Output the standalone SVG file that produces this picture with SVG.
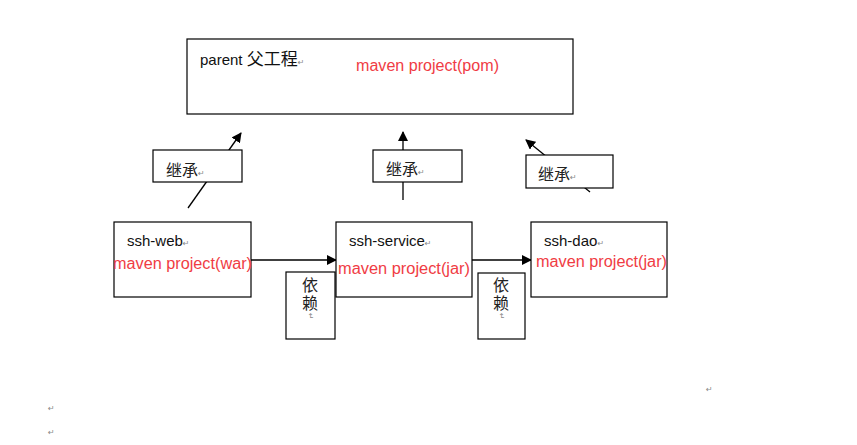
<svg xmlns="http://www.w3.org/2000/svg" width="857" height="445" viewBox="0 0 857 445">
<defs>
<marker id="ah" viewBox="0 0 10 10" refX="9" refY="5" markerWidth="10" markerHeight="10" markerUnits="userSpaceOnUse" orient="auto">
<path d="M0,0 L10,5 L0,10 z" fill="#000"/>
</marker>
</defs>
<style>
.box{fill:#fff;stroke:#000;stroke-width:1.2}
.t{font-family:"Liberation Sans","Noto Sans CJK SC",sans-serif;font-size:15px;fill:#111}
.red{font-family:"Liberation Sans","Noto Sans CJK SC",sans-serif;font-size:16px;fill:#f03c44}
.cj{font-family:"Noto Sans CJK SC",sans-serif;font-size:16px;fill:#222}
.vt{font-family:"Noto Sans CJK SC",sans-serif;font-size:16px;fill:#222;writing-mode:vertical-rl;letter-spacing:2px}
.pm{font-family:"DejaVu Sans",sans-serif;font-size:8px;fill:#888}
.ln{stroke:#000;stroke-width:1.3;fill:none}
</style>
<rect width="857" height="445" fill="#fff"/>

<g id="connectors">
<line class="ln" x1="188" y1="208" x2="241" y2="133" marker-end="url(#ah)"/>
<line class="ln" x1="403" y1="200" x2="403" y2="132" marker-end="url(#ah)"/>
<line class="ln" x1="590" y1="192" x2="526" y2="140" marker-end="url(#ah)"/>
<line class="ln" x1="251" y1="260" x2="336" y2="260" marker-end="url(#ah)"/>
<line class="ln" x1="472" y1="260" x2="531" y2="260" marker-end="url(#ah)"/>
</g>

<g id="parent">
<rect class="box" x="187" y="39" width="386" height="75"/>
<text class="t" x="200" y="65" font-size="15.5">parent <tspan font-size="17">父工程</tspan><tspan class="pm">↵</tspan></text>
<text class="red" x="356" y="71" textLength="143" lengthAdjust="spacingAndGlyphs">maven project(pom)</text>
</g>

<g id="inherit1">
<rect class="box" x="153" y="150" width="89" height="32"/>
<text class="cj" x="166" y="176">继承<tspan class="pm">↵</tspan></text>
</g>
<g id="inherit2">
<rect class="box" x="373" y="150" width="89" height="32"/>
<text class="cj" x="386" y="175">继承<tspan class="pm">↵</tspan></text>
</g>
<g id="inherit3">
<rect class="box" x="526" y="155" width="87" height="33"/>
<text class="cj" x="538" y="180">继承<tspan class="pm">↵</tspan></text>
</g>

<g id="dep1">
<rect class="box" x="286" y="272" width="49" height="67"/>
<text class="vt" x="310" y="277">依赖<tspan class="pm">↵</tspan></text>
</g>
<g id="dep2">
<rect class="box" x="478" y="273" width="47" height="66"/>
<text class="vt" x="501" y="277">依赖<tspan class="pm">↵</tspan></text>
</g>

<g id="ssh-web">
<rect class="box" x="114" y="222" width="137" height="75"/>
<text class="t" x="127" y="246">ssh-web<tspan class="pm">↵</tspan></text>
<text class="red" x="113" y="269" textLength="139" lengthAdjust="spacingAndGlyphs">maven project(war)</text>
</g>
<g id="ssh-service">
<rect class="box" x="336" y="222" width="136" height="75"/>
<text class="t" x="349" y="246">ssh-service<tspan class="pm">↵</tspan></text>
<text class="red" x="338" y="274" textLength="132" lengthAdjust="spacingAndGlyphs">maven project(jar)</text>
</g>
<g id="ssh-dao">
<rect class="box" x="531" y="222" width="136" height="75"/>
<text class="t" x="544" y="246">ssh-dao<tspan class="pm">↵</tspan></text>
<text class="red" x="536" y="267" textLength="131" lengthAdjust="spacingAndGlyphs">maven project(jar)</text>
</g>

<text class="pm" x="706" y="392">↵</text>
<text class="pm" x="48" y="411">↵</text>
<text class="pm" x="48" y="435">↵</text>
</svg>
